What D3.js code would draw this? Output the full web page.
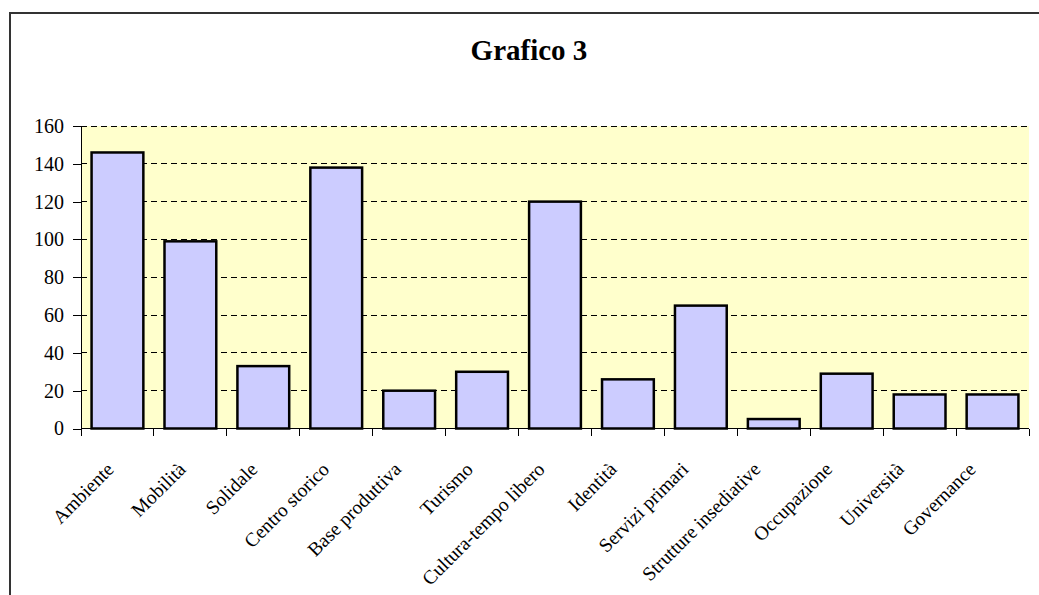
<!DOCTYPE html>
<html>
<head>
<meta charset="utf-8">
<script src="https://cdnjs.cloudflare.com/ajax/libs/d3/7.8.5/d3.min.js"></script>
<style>
    body { margin: 0; background: #fff; }
    svg { display: block; }
    text { font-family: "Liberation Serif", "Times New Roman", serif; fill: #000; }
    .axis path, .axis line { stroke: #000; shape-rendering: crispEdges; }
    .grid-line { stroke: #000; stroke-dasharray: 6,4; shape-rendering: crispEdges; }
</style>
</head>
<body>
<script>
var categories = ["Ambiente", "Mobilità", "Solidale", "Centro storico", "Base produttiva",
        "Turismo", "Cultura-tempo libero", "Identità", "Servizi primari",
        "Strutture insediative", "Occupazione", "Università", "Governance"],
    values = [146, 99, 33, 138, 20, 30, 120, 26, 65, 5, 29, 18, 18],
    yTicks = [0, 20, 40, 60, 80, 100, 120, 140, 160],
    title = "Grafico 3";

var _width = 1039,
    _height = 595,
    _margins = {top: 126, left: 81, right: 10, bottom: 166.5};

function quadrantWidth() {
    return _width - _margins.left - _margins.right;
}

function quadrantHeight() {
    return _height - _margins.top - _margins.bottom;
}

var svg = d3.select("body").append("svg")
    .attr("width", _width)
    .attr("height", _height);

// outer chart frame (runs off the right and bottom edges)
svg.append("rect")
    .attr("x", 10)
    .attr("y", 13)
    .attr("width", 1100)
    .attr("height", 700)
    .attr("fill", "#fff")
    .attr("stroke", "#333")
    .attr("stroke-width", 2);

svg.append("text")
    .attr("x", 529)
    .attr("y", 60)
    .attr("text-anchor", "middle")
    .style("font-size", "29px")
    .style("font-weight", "bold")
    .text(title);

var x = d3.scaleBand()
    .domain(categories)
    .range([0, quadrantWidth()])
    .paddingInner(0.29)
    .paddingOuter(0.145);

// Excel spaces the rotated labels a little tighter than the bars
var xLabel = d3.scalePoint()
    .domain(categories)
    .range([34, 896]);

var y = d3.scaleLinear()
    .domain([0, 160])
    .range([quadrantHeight(), 0]);

var bodyG = svg.append("g")
    .attr("transform", "translate(" + _margins.left + "," + _margins.top + ")");

bodyG.append("rect")
    .attr("width", quadrantWidth())
    .attr("height", quadrantHeight())
    .attr("fill", "#FFFFCC");

bodyG.selectAll("line.grid-line")
    .data(yTicks.filter(function(d) { return d > 0; }))
    .enter()
    .append("line")
    .attr("class", "grid-line")
    .attr("x1", 0)
    .attr("x2", quadrantWidth())
    .attr("y1", function(d) { return y(d); })
    .attr("y2", function(d) { return y(d); });

bodyG.selectAll("rect.bar")
    .data(values)
    .enter()
    .append("rect")
    .attr("class", "bar")
    .attr("x", function(d, i) { return x(categories[i]); })
    .attr("width", x.bandwidth())
    .attr("y", function(d) { return y(d); })
    .attr("height", function(d) { return y(0) - y(d); })
    .attr("fill", "#CCCCFF")
    .attr("stroke", "#000")
    .attr("stroke-width", 2.5);

var yAxis = d3.axisLeft(y)
    .tickValues(yTicks)
    .tickSize(8)
    .tickPadding(9);

var yAxisG = bodyG.append("g")
    .attr("class", "y axis")
    .attr("font-size", 20)
    .call(yAxis);

yAxisG.select(".domain").attr("d", "M0," + y(160) + "V" + y(0));
yAxisG.selectAll("text")
    .attr("font-family", null)
    .style("font-size", "20px");

// bottom axis: ticks sit on category boundaries
var step = x.step(),
    boundaries = d3.range(categories.length + 1).map(function(i) { return i * step; });

var xAxisG = bodyG.append("g")
    .attr("class", "x axis")
    .attr("transform", "translate(0," + quadrantHeight() + ")");

xAxisG.append("line")
    .attr("x1", 0)
    .attr("x2", quadrantWidth());

xAxisG.selectAll("line.tick")
    .data(boundaries)
    .enter()
    .append("line")
    .attr("class", "tick")
    .attr("x1", function(d) { return d; })
    .attr("x2", function(d) { return d; })
    .attr("y1", 0)
    .attr("y2", 7);

xAxisG.selectAll("text")
    .data(categories)
    .enter()
    .append("text")
    .attr("transform", function(d) {
        return "translate(" + xLabel(d) + ",42) rotate(-45)";
    })
    .attr("text-anchor", "end")
    .style("font-size", "19.5px")
    .text(function(d) { return d; });
</script>
</body>
</html>
